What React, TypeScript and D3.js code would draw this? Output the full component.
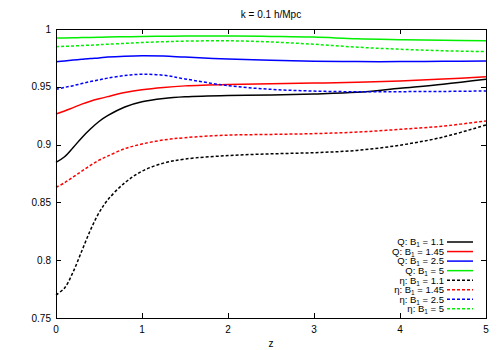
import React from 'react';
import * as d3 from 'd3';

// redshift samples shared by every curve
const zs = [0, 0.1, 0.2, 0.3, 0.4, 0.5, 0.6, 0.8, 1, 1.25, 1.5, 2, 2.5, 3, 3.5, 4, 4.5, 5];

const qB11 = [0.8847, 0.8895, 0.8975, 0.906, 0.9135, 0.92, 0.925, 0.9325, 0.937, 0.9398, 0.9413, 0.9425, 0.943, 0.9438, 0.9452, 0.9487, 0.9522, 0.9565];
const qB145 = [0.9265, 0.929, 0.932, 0.935, 0.9375, 0.9396, 0.9415, 0.945, 0.9475, 0.9495, 0.9508, 0.952, 0.9526, 0.9532, 0.954, 0.955, 0.9567, 0.9587];
const qB25 = [0.9717, 0.9724, 0.9731, 0.9738, 0.9745, 0.975, 0.9757, 0.9765, 0.9769, 0.9766, 0.9757, 0.974, 0.973, 0.9722, 0.9718, 0.9718, 0.972, 0.9723];
const qB5 = [0.9922, 0.9923, 0.9924, 0.9926, 0.9927, 0.9928, 0.993, 0.9933, 0.9935, 0.9937, 0.9939, 0.994, 0.9936, 0.993, 0.9915, 0.9908, 0.9903, 0.9899];
const etaB11 = [0.770, 0.776, 0.790, 0.808, 0.826, 0.841, 0.852, 0.867, 0.877, 0.884, 0.8875, 0.8905, 0.892, 0.893, 0.895, 0.8995, 0.9065, 0.917];
const etaB145 = [0.8631, 0.867, 0.872, 0.877, 0.882, 0.8865, 0.890, 0.8965, 0.9005, 0.904, 0.906, 0.9082, 0.9088, 0.9095, 0.9108, 0.9132, 0.916, 0.9205];
const etaB25 = [0.9478, 0.9495, 0.951, 0.9528, 0.9545, 0.956, 0.9575, 0.9598, 0.9608, 0.960, 0.9568, 0.951, 0.9478, 0.9463, 0.9457, 0.9458, 0.946, 0.9464];
const etaB5 = [0.9847, 0.985, 0.9853, 0.9857, 0.986, 0.9864, 0.9868, 0.9876, 0.9883, 0.989, 0.9895, 0.9898, 0.9888, 0.9868, 0.9843, 0.9825, 0.9812, 0.9804];

const xTicks = [0, 1, 2, 3, 4, 5];
const yTicks = [0.75, 0.8, 0.85, 0.9, 0.95, 1];

const series = [
  { pre: 'Q', b: '1.1', values: qB11, color: '#000000', dashed: false },
  { pre: 'Q', b: '1.45', values: qB145, color: '#ff0000', dashed: false },
  { pre: 'Q', b: '2.5', values: qB25, color: '#0000ff', dashed: false },
  { pre: 'Q', b: '5', values: qB5, color: '#00ee00', dashed: false },
  { pre: 'η', b: '1.1', values: etaB11, color: '#000000', dashed: true },
  { pre: 'η', b: '1.45', values: etaB145, color: '#ff0000', dashed: true },
  { pre: 'η', b: '2.5', values: etaB25, color: '#0000ff', dashed: true },
  { pre: 'η', b: '5', values: etaB5, color: '#00ee00', dashed: true },
];

const left = 56, right = 486, top = 29, bottom = 318;

export default function App() {
  const x = d3.scaleLinear().domain([0, 5]).range([left, right]);
  const y = d3.scaleLinear().domain([0.75, 1]).range([bottom, top]);
  const line = d3.line<number>()
    .x((_, i) => x(zs[i]))
    .y(d => y(d))
    .curve(d3.curveCatmullRom.alpha(0.5));

  const font = 'Liberation Sans, Arial, sans-serif';

  return (
    <svg width={500} height={350} style={{ position: 'absolute', left: 0, top: 0, background: '#fff' }}
         fontFamily={font} fontSize={10}>
      <text x={271} y={18} textAnchor="middle">k = 0.1 h/Mpc</text>

      {xTicks.map(t => (
        <g key={'x' + t}>
          <line x1={Math.round(x(t)) + 0.5} x2={Math.round(x(t)) + 0.5} y1={bottom} y2={bottom - 5} stroke="#000" />
          <line x1={Math.round(x(t)) + 0.5} x2={Math.round(x(t)) + 0.5} y1={top} y2={top + 5} stroke="#000" />
          <text x={x(t)} y={333} textAnchor="middle">{t}</text>
        </g>
      ))}
      {yTicks.map(t => (
        <g key={'y' + t}>
          <line x1={left} x2={left + 5} y1={Math.round(y(t)) + 0.5} y2={Math.round(y(t)) + 0.5} stroke="#000" />
          <line x1={right} x2={right - 5} y1={Math.round(y(t)) + 0.5} y2={Math.round(y(t)) + 0.5} stroke="#000" />
          <text x={51} y={y(t) + 3.5} textAnchor="end">{t}</text>
        </g>
      ))}
      <text x={271} y={347} textAnchor="middle">z</text>

      <g>
        {series.map((s, i) => (
          <path key={i} d={line(s.values) || ''} fill="none" stroke={s.color}
                strokeWidth={1.5} strokeDasharray={s.dashed ? '3,2' : undefined} />
        ))}
      </g>

      <rect x={left + 0.5} y={top + 0.5} width={right - left} height={bottom - top} fill="none" stroke="#000" />

      <g fontSize={9.5}>
        {series.map((s, i) => {
          const ly = 242 + i * 9.55;
          return (
            <g key={'l' + i}>
              <text x={444} y={ly + 3.3} textAnchor="end">
                {s.pre}: B<tspan fontSize={6.5} baselineShift="-2">1</tspan> = {s.b}
              </text>
              <line x1={447} x2={473} y1={ly} y2={ly} stroke={s.color} strokeWidth={1.5}
                    strokeDasharray={s.dashed ? '3,2' : undefined} />
            </g>
          );
        })}
      </g>
    </svg>
  );
}
